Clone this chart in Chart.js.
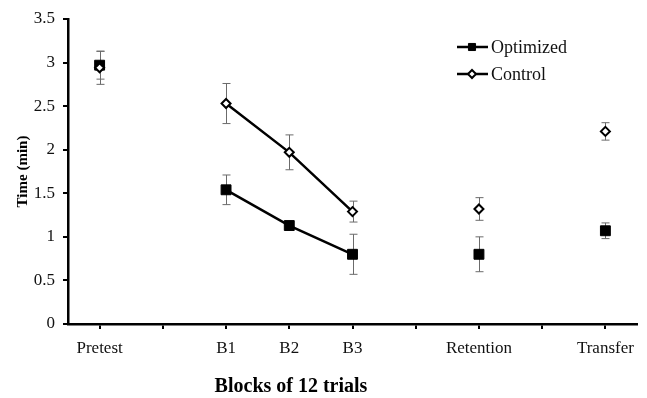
<!DOCTYPE html>
<html lang="en">
<head>
  <meta charset="UTF-8" />
  <title>Time per block</title>
  <script src="https://cdn.jsdelivr.net/npm/chart.js"></script>
  <style>
    body { margin: 0; background: #fff; }
    #wrap { width: 647px; height: 398px; }
  </style>
</head>
<body>
  <div id="wrap"><canvas id="chart"></canvas></div>

  <script>
    const blocks = ['Pretest', '', 'B1', 'B2', 'B3', '', 'Retention', '', 'Transfer'];
    const optimized = [2.97, null, 1.54, 1.13, 0.80, null, 0.80, null, 1.07];
    const optimizedErr = [0.16, null, 0.17, 0.03, 0.23, null, 0.20, null, 0.09];
    const control = [2.94, null, 2.53, 1.97, 1.29, null, 1.32, null, 2.21];
    const controlErr = [0.19, null, 0.23, 0.20, 0.12, null, 0.13, null, 0.10];
    const yTicks = [0, 0.5, 1, 1.5, 2, 2.5, 3, 3.5];

    const serif = '"Liberation Serif", "Times New Roman", serif';

    // error bars, drawn under the markers
    const errorBars = {
      id: 'errorBars',
      beforeDatasetsDraw(chart) {
        const ctx = chart.ctx;
        const x = chart.scales.x, y = chart.scales.y;
        ctx.save();
        ctx.strokeStyle = '#6b6b6b';
        ctx.lineWidth = 1;
        chart.data.datasets.forEach(ds => {
          ds.data.forEach((v, i) => {
            const e = ds.errors[i];
            if (v == null || e == null) return;
            const px = Math.round(x.getPixelForValue(i)) + 0.5;
            const top = y.getPixelForValue(v + e);
            const bot = y.getPixelForValue(v - e);
            ctx.beginPath();
            ctx.moveTo(px, top); ctx.lineTo(px, bot);
            ctx.moveTo(px - 4, top); ctx.lineTo(px + 4, top);
            ctx.moveTo(px - 4, bot); ctx.lineTo(px + 4, bot);
            ctx.stroke();
          });
        });
        ctx.restore();
      }
    };

    // legend inside the plot + x title shifted left like the original
    const extras = {
      id: 'extras',
      afterDraw(chart) {
        const ctx = chart.ctx;
        const items = [
          { text: 'Optimized', style: 'rect', r: 5, fill: '#000', bw: 1 },
          { text: 'Control', style: 'rectRot', r: 4, fill: '#fff', bw: 2 }
        ];
        ctx.save();
        items.forEach((it, k) => {
          const yy = 47 + k * 27;
          ctx.strokeStyle = '#000';
          ctx.lineWidth = 2.5;
          ctx.beginPath();
          ctx.moveTo(457, yy); ctx.lineTo(488, yy);
          ctx.stroke();
          ctx.fillStyle = it.fill;
          ctx.lineWidth = it.bw;
          Chart.helpers.drawPoint(ctx, { pointStyle: it.style, radius: it.r, rotation: 0, borderWidth: it.bw }, 472, yy);
          ctx.fillStyle = '#111';
          ctx.font = '18px ' + serif;
          ctx.textAlign = 'left';
          ctx.textBaseline = 'middle';
          ctx.fillText(it.text, 491, yy + 1);
        });
        ctx.font = 'bold 20px ' + serif;
        ctx.textAlign = 'center';
        ctx.textBaseline = 'middle';
        ctx.fillStyle = '#000';
        ctx.fillText('Blocks of 12 trials', 291, 387);
        ctx.restore();
      }
    };

    new Chart(document.getElementById('chart'), {
      type: 'line',
      data: {
        labels: blocks,
        datasets: [
          {
            label: 'Optimized',
            data: optimized,
            errors: optimizedErr,
            borderColor: '#000',
            borderWidth: 2.5,
            pointStyle: 'rect',
            pointRadius: 7,
            pointBackgroundColor: '#000',
            pointBorderColor: '#000',
            pointBorderWidth: 1,
            spanGaps: false,
            order: 1
          },
          {
            label: 'Control',
            data: control,
            errors: controlErr,
            borderColor: '#000',
            borderWidth: 2.5,
            pointStyle: 'rectRot',
            pointRadius: 4.5,
            pointBackgroundColor: '#fff',
            pointBorderColor: '#000',
            pointBorderWidth: 2,
            spanGaps: false,
            order: 0
          }
        ]
      },
      options: {
        responsive: true,
        maintainAspectRatio: false,
        animation: false,
        layout: { padding: { left: 8, right: 10, top: 19, bottom: 0 } },
        plugins: {
          legend: { display: false },
          tooltip: { enabled: false }
        },
        scales: {
          x: {
            offset: true,
            grid: {
              offset: false,
              drawOnChartArea: false,
              drawTicks: true,
              tickLength: 5,
              color: '#000',
              lineWidth: 2
            },
            border: { color: '#000', width: 2.5 },
            ticks: {
              autoSkip: false,
              maxRotation: 0,
              padding: 9,
              color: '#111',
              font: { family: serif, size: 17 }
            },
            afterFit(scale) { scale.height = 74; }
          },
          y: {
            min: 0,
            max: 3.5,
            afterBuildTicks(scale) { scale.ticks = yTicks.map(v => ({ value: v })); },
            grid: {
              drawOnChartArea: false,
              drawTicks: true,
              tickLength: 5,
              color: '#000',
              lineWidth: 2
            },
            border: { color: '#000', width: 2.5 },
            ticks: {
              padding: 8,
              color: '#111',
              font: { family: serif, size: 17 },
              callback: v => String(v)
            },
            title: {
              display: true,
              text: 'Time (min)',
              color: '#000',
              font: { family: serif, size: 15, weight: 'bold' },
              padding: { top: 6, bottom: 0 }
            },
            afterFit(scale) { scale.width = 60; }
          }
        }
      },
      plugins: [errorBars, extras]
    });
  </script>
</body>
</html>
